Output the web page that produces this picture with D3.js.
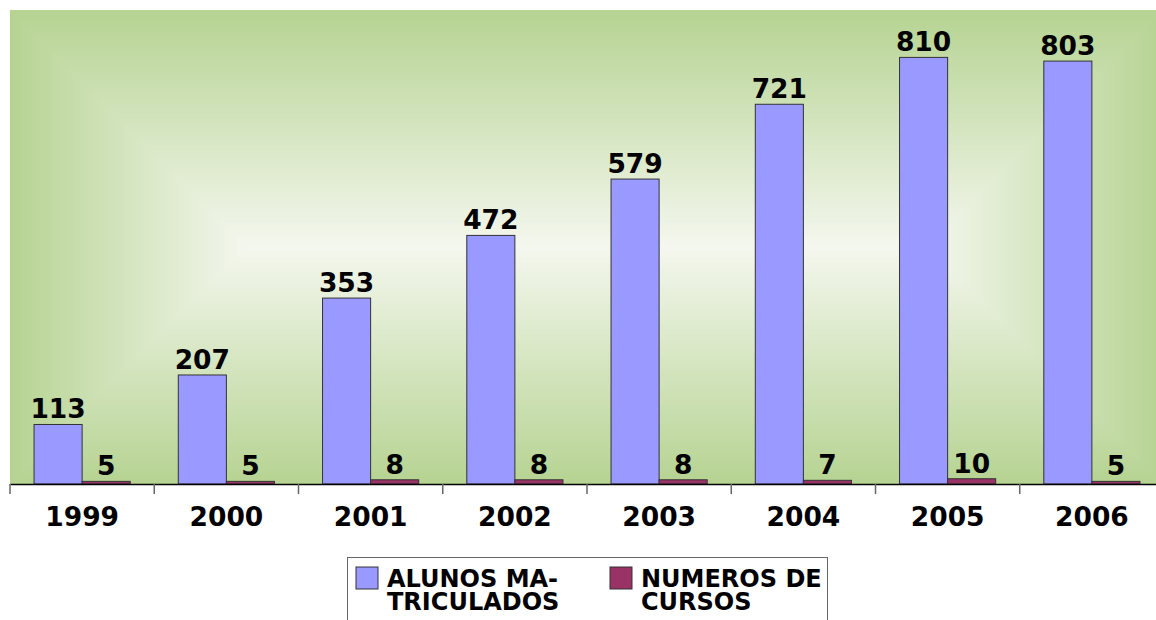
<!DOCTYPE html>
<html>
<head>
<meta charset="utf-8">
<script src="https://cdn.jsdelivr.net/npm/d3@7"></script>
<style>
  body { margin: 0; background: #fff; }
  text { font-family: "DejaVu Sans", Verdana, sans-serif; font-weight: bold; }
</style>
</head>
<body>
<div id="chart"></div>
<script>
const years = ["1999", "2000", "2001", "2002", "2003", "2004", "2005", "2006"]
const alunos = [113, 207, 353, 472, 579, 721, 810, 803]
const cursos = [5, 5, 8, 8, 8, 7, 10, 5]
const seriesNames = [["ALUNOS MA-", "TRICULADOS"], ["NUMEROS DE", "CURSOS"]]
const seriesColors = ["#9999ff", "#993366"]

const width = 1156
const height = 620
const plot = {left: 10, top: 10, right: 1164, bottom: 484}

const svg = d3.select("#chart").append("svg")
  .attr("width", width)
  .attr("height", height)

// rectangular "from center" gradient: nested insets
const pw = plot.right - plot.left
const ph = plot.bottom - plot.top
const maxInset = Math.floor(ph / 2)
const bgColor = d3.interpolateRgb("#b6d392", "#f4f7ee")
svg.append("g").selectAll("rect")
  .data(d3.range(0, maxInset, 1))
  .enter()
  .append("rect")
  .attr("x", d => plot.left + d)
  .attr("y", d => plot.top + d)
  .attr("width", d => pw - 2 * d)
  .attr("height", d => Math.max(1, ph - 2 * d))
  .style("fill", d => bgColor(d / maxInset))

const x = d3.scaleBand().domain(years).range([plot.left, plot.right])
const y = d3.scaleLinear().domain([0, 900]).range([plot.bottom, plot.top])
const bw = x.bandwidth() / 3

const rows = years.map((yr, i) => ({year: yr, vals: [alunos[i], cursos[i]]}))

const group = svg.selectAll("g.cat")
  .data(rows)
  .enter()
  .append("g")
  .attr("class", "cat")
  .attr("transform", d => `translate(${x(d.year) + x.bandwidth() / 2 - bw},0)`)

group.selectAll("rect")
  .data(d => d.vals)
  .enter()
  .append("rect")
  .attr("x", (d, i) => i * bw)
  .attr("y", d => y(d))
  .attr("width", bw)
  .attr("height", d => plot.bottom - y(d))
  .style("fill", (d, i) => seriesColors[i])
  .style("stroke", "#333")
  .style("stroke-width", 1)

group.selectAll("text.val")
  .data(d => d.vals)
  .enter()
  .append("text")
  .attr("class", "val")
  .attr("x", (d, i) => i * bw + bw / 2)
  .attr("y", d => y(d) - 6)
  .attr("text-anchor", "middle")
  .style("font-size", "26.5px")
  .style("fill", "#000")
  .text(d => d)

// axis
const axis = d3.axisBottom(x).tickSize(0).tickPadding(23)
const ax = svg.append("g")
  .attr("transform", `translate(0,${plot.bottom})`)
  .call(axis)
ax.select(".domain").attr("stroke", "#000").attr("stroke-width", 1.5)
ax.selectAll(".tick text")
  .style("font-size", "26.5px")
  .style("font-family", "DejaVu Sans, sans-serif")
  .style("font-weight", "bold")
  .attr("fill", "#000")
  .attr("dy", "0.71em")

svg.selectAll("line.sep")
  .data(years)
  .enter()
  .append("line")
  .attr("class", "sep")
  .attr("x1", d => x(d)).attr("x2", d => x(d))
  .attr("y1", plot.bottom).attr("y2", plot.bottom + 10)
  .style("stroke", "#666")
  .style("stroke-width", 1.5)

// legend
const legend = svg.append("g")
legend.append("rect")
  .attr("x", 347.5).attr("y", 557.5)
  .attr("width", 480).attr("height", 80)
  .style("fill", "#fff")
  .style("stroke", "#666")
  .style("stroke-width", 1)

const item = legend.selectAll("g.item")
  .data(seriesNames)
  .enter()
  .append("g")
  .attr("class", "item")
  .attr("transform", (d, i) => `translate(${356 + i * 254},567)`)

item.append("rect")
  .attr("width", 22).attr("height", 22)
  .style("fill", (d, i) => seriesColors[i])
  .style("stroke", "#333")

item.append("text")
  .style("font-size", "24px")
  .selectAll("tspan")
  .data(d => d)
  .enter()
  .append("tspan")
  .attr("x", 31)
  .attr("y", (d, i) => 20 + i * 23)
  .text(d => d)
</script>
</body>
</html>
